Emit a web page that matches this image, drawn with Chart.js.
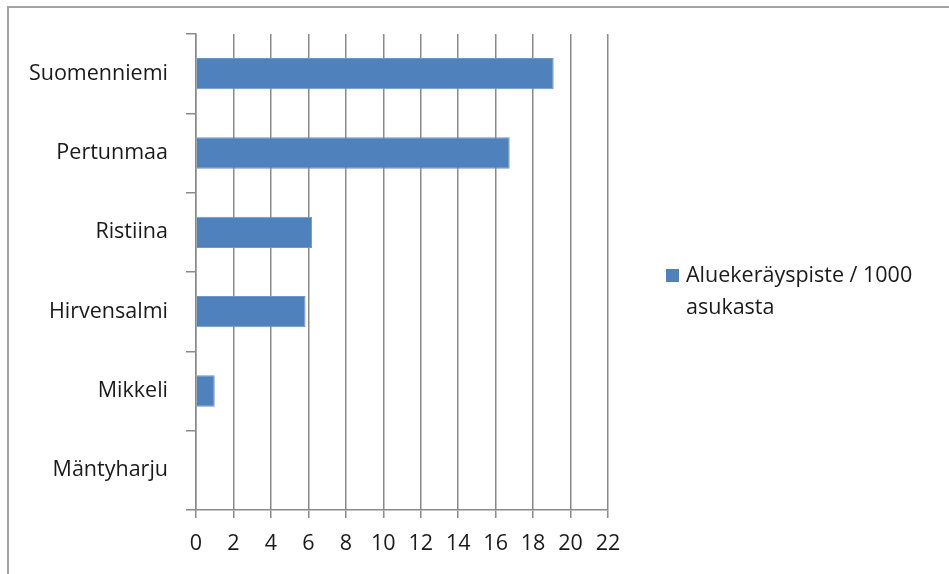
<!DOCTYPE html>
<html>
<head>
<meta charset="utf-8">
<script src="https://cdn.jsdelivr.net/npm/chart.js@4.4.1/dist/chart.umd.min.js"></script>
<style>
    html, body { margin: 0; padding: 0; background: #fff; }
    #wrap { position: relative; width: 949px; height: 574px; }
</style>
</head>
<body>
<div id="wrap"><canvas id="chart" width="949" height="574"></canvas></div>
<script>
const CATEGORIES = ["Suomenniemi", "Pertunmaa", "Ristiina", "Hirvensalmi", "Mikkeli", "Mäntyharju"];
const VALUES     = [19.1, 16.75, 6.2, 5.85, 1.0, 0];
const SERIES     = "Aluekeräyspiste / 1000 asukasta";
const X_MAX      = 22;
const X_STEP     = 2;

const FONT  = "'Open Sans'";
const FSIZE = 21.5;
const TEXT  = "#1a1a1a";
const GRID  = "#8a8a8a";
const BLUE  = "#4f81bd";

// frame (top + left only, like the cropped Excel chart area) and a wrapped legend
const decor = {
    id: "decor",
    beforeDraw(chart) {
        const ctx = chart.ctx;
        ctx.save();
        ctx.strokeStyle = "#a3a3a3";
        ctx.lineWidth = 2;
        ctx.beginPath();
        ctx.moveTo(8, 574);
        ctx.lineTo(8, 7);
        ctx.lineTo(949, 7);
        ctx.stroke();
        ctx.restore();
    },
    afterDraw(chart) {
        const ctx = chart.ctx;
        const ds = chart.data.datasets[0];
        ctx.save();
        ctx.fillStyle = ds.backgroundColor;
        ctx.fillRect(666, 269, 13, 13);
        ctx.fillStyle = TEXT;
        ctx.font = `${FSIZE}px ${FONT}`;
        ctx.textBaseline = "middle";
        const words = ds.label.split(" ");
        ctx.fillText(words.slice(0, 3).join(" "), 686, 276);
        ctx.fillText(words.slice(3).join(" "), 686, 308);
        ctx.restore();
    }
};

new Chart(document.getElementById("chart"), {
    type: "bar",
    data: {
        labels: CATEGORIES,
        datasets: [{
            label: SERIES,
            data: VALUES,
            backgroundColor: BLUE,
            borderColor: "#6d97cb",
            borderWidth: 1,
            categoryPercentage: 1,
            barPercentage: 0.395,
        }]
    },
    options: {
        indexAxis: "y",
        responsive: false,
        animation: false,
        layout: { padding: { left: 0, right: 341, top: 34, bottom: 0 } },
        plugins: { legend: { display: false }, tooltip: { enabled: false } },
        scales: {
            x: {
                min: 0, max: X_MAX,
                ticks: { stepSize: X_STEP, color: TEXT, font: { family: FONT, size: FSIZE }, padding: 13, maxRotation: 0, autoSkip: false },
                grid: { color: GRID, lineWidth: 1.5, tickLength: 8, drawTicks: true },
                border: { color: GRID, width: 1.5 },
                afterFit: s => { s.height = 64; }
            },
            y: {
                offset: true,
                ticks: { color: TEXT, font: { family: FONT, size: FSIZE }, padding: 18 },
                grid: { offset: true, drawOnChartArea: false, color: GRID, lineWidth: 1.5, tickLength: 10 },
                border: { color: GRID, width: 1.5 },
                afterFit: s => { s.width = 196; }
            }
        }
    },
    plugins: [decor]
});
</script>
</body>
</html>
